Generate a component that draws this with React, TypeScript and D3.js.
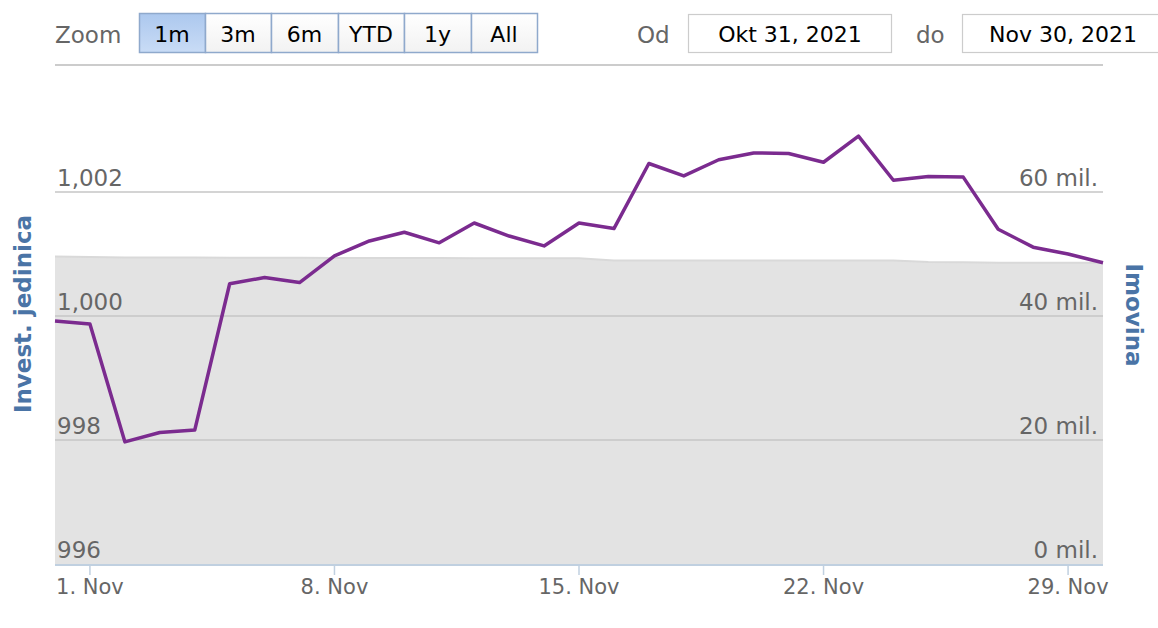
import React from "react";
import * as d3 from "d3";

// dates Oct 31 - Nov 30, 2021
const dates = [
  "2021-10-31", "2021-11-01", "2021-11-02", "2021-11-03", "2021-11-04", "2021-11-05",
  "2021-11-06", "2021-11-07", "2021-11-08", "2021-11-09", "2021-11-10", "2021-11-11",
  "2021-11-12", "2021-11-13", "2021-11-14", "2021-11-15", "2021-11-16", "2021-11-17",
  "2021-11-18", "2021-11-19", "2021-11-20", "2021-11-21", "2021-11-22", "2021-11-23",
  "2021-11-24", "2021-11-25", "2021-11-26", "2021-11-27", "2021-11-28", "2021-11-29",
  "2021-11-30",
];

// Invest. jedinica (left axis)
const unitValues = [
  999.92, 999.87, 997.97, 998.12, 998.16, 1000.52, 1000.62, 1000.54, 1000.97, 1001.21,
  1001.35, 1001.18, 1001.5, 1001.29, 1001.13, 1001.5, 1001.41, 1002.46, 1002.26, 1002.52,
  1002.63, 1002.62, 1002.48, 1002.9, 1002.19, 1002.25, 1002.24, 1001.4, 1001.11, 1001.0,
  1000.86,
];

// Imovina in millions (right axis)
const assetValues = [
  49.6, 49.5, 49.45, 49.45, 49.45, 49.4, 49.4, 49.4, 49.35, 49.35, 49.35, 49.35, 49.3,
  49.3, 49.3, 49.3, 48.95, 48.95, 48.95, 48.95, 48.95, 48.95, 48.95, 48.95, 48.95, 48.7,
  48.65, 48.6, 48.6, 48.6, 48.6,
];

const leftTicks = [996, 998, 1000, 1002];
const rightTicks = [0, 20, 40, 60];
const xTickDates = ["2021-11-01", "2021-11-08", "2021-11-15", "2021-11-22", "2021-11-29"];
const zoomButtons = ["1m", "3m", "6m", "YTD", "1y", "All"];
const fromDate = "Okt 31, 2021";
const toDate = "Nov 30, 2021";

const parse = d3.timeParse("%Y-%m-%d");
const font = "'DejaVu Sans', Verdana, sans-serif";

const App = () => {
  const left = 55;
  const right = 1103;
  const top = 68;
  const bottom = 564;

  const x = d3
    .scaleTime()
    .domain([parse(dates[0]) as Date, parse(dates[dates.length - 1]) as Date])
    .range([left, right]);
  const yL = d3.scaleLinear().domain([996, 1004]).range([bottom, top]);
  const yR = d3.scaleLinear().domain([0, 80]).range([bottom, top]);

  const pts = dates.map((d, i) => ({ date: parse(d) as Date, unit: unitValues[i], asset: assetValues[i] }));

  const area = d3
    .area<{ date: Date; asset: number }>()
    .x((d) => x(d.date))
    .y0(yR(0))
    .y1((d) => yR(d.asset));
  const areaTop = d3
    .line<{ date: Date; asset: number }>()
    .x((d) => x(d.date))
    .y((d) => yR(d.asset));
  const line = d3
    .line<{ date: Date; unit: number }>()
    .x((d) => x(d.date))
    .y((d) => yL(d.unit));

  const fmtX = d3.timeFormat("%-d. Nov");
  const fmtL = d3.format(",");

  const btnX = [139, 205, 271, 338, 404, 471, 537];

  return (
    <svg
      width={1158}
      height={628}
      style={{ position: "absolute", left: 0, top: 0, background: "#fff" }}
      fontFamily={font}
    >
      <defs>
        <linearGradient id="sel" x1="0" y1="0" x2="0" y2="1">
          <stop offset="0" stopColor="#acc8ee" />
          <stop offset="1" stopColor="#c9dcf6" />
        </linearGradient>
        <linearGradient id="btn" x1="0" y1="0" x2="0" y2="1">
          <stop offset="0" stopColor="#ffffff" />
          <stop offset="1" stopColor="#f2f2f2" />
        </linearGradient>
      </defs>

      {/* toolbar */}
      <text x={55} y={43} fontSize={23} fill="#666">Zoom</text>
      {zoomButtons.map((b, i) => (
        <g key={b}>
          <rect
            x={btnX[i] + 0.5}
            y={13.5}
            width={btnX[i + 1] - btnX[i]}
            height={39}
            fill={i === 0 ? "url(#sel)" : "url(#btn)"}
            stroke="#8fa9cc"
            strokeWidth={1.5}
          />
          <text x={(btnX[i] + btnX[i + 1]) / 2} y={42} fontSize={22} textAnchor="middle" fill="#000">
            {b}
          </text>
        </g>
      ))}
      <text x={637} y={43} fontSize={23} fill="#666">Od</text>
      <rect x={688.5} y={14.5} width={203} height={38} fill="#fff" stroke="#cccccc" strokeWidth={1.2} />
      <text x={790} y={42} fontSize={22} textAnchor="middle" fill="#000">{fromDate}</text>
      <text x={916} y={43} fontSize={23} fill="#666">do</text>
      <rect x={962.5} y={14.5} width={210} height={38} fill="#fff" stroke="#cccccc" strokeWidth={1.2} />
      <text x={1063} y={42} fontSize={22} textAnchor="middle" fill="#000">{toDate}</text>
      <line x1={left} x2={right} y1={65} y2={65} stroke="#cccccc" strokeWidth={2} />

      {/* area series */}
      <path d={area(pts) as string} fill="#e3e3e3" />
      <path d={areaTop(pts) as string} fill="none" stroke="#d9d9d9" strokeWidth={2} />

      {/* gridlines */}
      {leftTicks.slice(1).map((t) => (
        <line key={t} x1={left} x2={right} y1={yL(t)} y2={yL(t)} stroke="#c6c6c6" strokeWidth={1.5} />
      ))}

      {/* x axis */}
      <line x1={left} x2={right} y1={bottom + 1} y2={bottom + 1} stroke="#c0d0e0" strokeWidth={2} />
      {xTickDates.map((d) => {
        const dt = parse(d) as Date;
        return (
          <g key={d}>
            <line x1={x(dt)} x2={x(dt)} y1={bottom} y2={bottom + 11} stroke="#c0d0e0" strokeWidth={1.5} />
            <text x={x(dt)} y={594} fontSize={21} textAnchor="middle" fill="#666">
              {fmtX(dt)}
            </text>
          </g>
        );
      })}

      {/* left labels */}
      {leftTicks.map((t) => (
        <text key={t} x={57} y={yL(t) - 6} fontSize={23} fill="#666">
          {fmtL(t)}
        </text>
      ))}
      {/* right labels */}
      {rightTicks.map((t) => (
        <text key={t} x={1098} y={yR(t) - 6} fontSize={23} textAnchor="end" fill="#666">
          {`${t} mil.`}
        </text>
      ))}

      {/* axis titles */}
      <text
        transform={`translate(31, 314) rotate(-90)`}
        fontSize={23}
        fontWeight="bold"
        fill="#4a74a6"
        textAnchor="middle"
      >
        Invest. jedinica
      </text>
      <text
        transform={`translate(1126, 315) rotate(90)`}
        fontSize={23}
        fontWeight="bold"
        fill="#4a74a6"
        textAnchor="middle"
      >
        Imovina
      </text>

      {/* main line */}
      <path d={line(pts) as string} fill="none" stroke="#7b2b8f" strokeWidth={3.5} strokeLinejoin="round" />
    </svg>
  );
};

export default App;
